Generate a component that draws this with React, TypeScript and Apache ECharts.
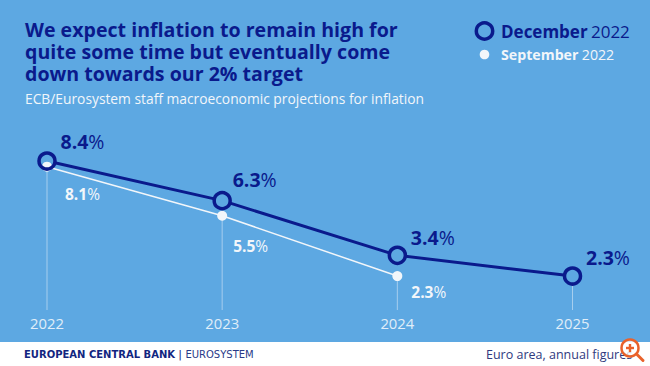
import React, { useEffect, useRef } from "react";
import * as echarts from "echarts";

const years = ["2022", "2023", "2024", "2025"];
const december = [8.4, 6.3, 3.4, 2.3];
const september: (number | null)[] = [8.1, 5.5, 2.3, null];
const titleText = "We expect inflation to remain high for\nquite some time but eventually come\ndown towards our 2% target";
const subtitleText = "ECB/Eurosystem staff macroeconomic projections for inflation";
const decLabelOffsets = [[6, -20], [3, -21], [6, -18], [6, -19]];
const sepLabelOffsets = [[13, 27], [6, 30], [9, 16]];

const NAVY = "#0A1A8C";
const BG = "#5DA8E2";
const WHITE = "#F2F6FA";
const FONT = "'Open Sans', sans-serif";

const fmt = (c: number) => c.toFixed(1);

export default function App() {
  const ref = useRef<HTMLDivElement>(null);
  useEffect(() => {
    document.body.style.margin = "0";
    const chart = echarts.init(ref.current!, null, { renderer: "svg" });
    const lowest = years.map((_, i) => Math.min(december[i], september[i] ?? Infinity));
    chart.setOption({
      animation: false,
      backgroundColor: BG,
      textStyle: { fontFamily: FONT },
      title: {
        left: 25, top: 18, padding: 0,
        text: titleText,
        textStyle: { color: NAVY, fontFamily: FONT, fontWeight: 700, fontSize: 19.6, lineHeight: 22 },
        subtext: subtitleText,
        itemGap: 5,
        subtextStyle: { color: "#F2F6FA", fontFamily: FONT, fontSize: 13.8, lineHeight: 18 },
      },
      grid: { left: 47, right: 77.5, top: 140.3, bottom: 56 },
      xAxis: {
        type: "category", data: years, boundaryGap: false,
        axisLine: { show: false }, axisTick: { show: false },
        axisLabel: { color: "#E0EEF9", fontSize: 14.8, fontFamily: FONT, margin: 5 },
      },
      yAxis: { type: "value", min: 0.5, max: 9.5, show: false },
      series: [
        {
          type: "custom", z: 1, silent: true,
          data: lowest.map((v, i) => [i, v]),
          renderItem: (_: any, api: any) => {
            const a = api.coord([api.value(0), api.value(1)]);
            const b = api.coord([api.value(0), 0.5]);
            return { type: "line", shape: { x1: a[0], y1: a[1], x2: b[0], y2: b[1] }, style: { stroke: "#A6CEEE", lineWidth: 1 } };
          },
        },
        {
          type: "line", z: 2, data: september, symbol: "none",
          lineStyle: { color: WHITE, width: 1.5 },
        },
        {
          type: "line", z: 3, data: december, symbol: "circle", symbolSize: 14,
          showAllSymbol: true,
          itemStyle: { color: BG, borderColor: BG, borderWidth: 0 },
          lineStyle: { color: NAVY, width: 3 },
        },
        {
          type: "scatter", z: 4, data: september, symbol: "circle", symbolSize: 10,
          itemStyle: { color: WHITE, opacity: 1 },
          label: {
            show: true, position: "right", color: WHITE,
            formatter: (p: any) => `{b|${fmt(p.value)}}{n|%}`,
            rich: {
              b: { fontFamily: FONT, fontWeight: 700, fontSize: 15.5, color: WHITE },
              n: { fontFamily: FONT, fontSize: 15.5, color: WHITE },
            },
          },
          labelLayout: (p: any) => {
            const o = sepLabelOffsets[p.dataIndex];
            return { dx: o[0] - 5, dy: o[1] };
          },
        },
        {
          type: "scatter", z: 5, data: december, symbol: "circle", symbolSize: 16,
          itemStyle: { color: "none", borderColor: NAVY, borderWidth: 3.5, opacity: 1 },
          label: {
            show: true, position: "right",
            formatter: (p: any) => `{b|${fmt(p.value)}}{n|%}`,
            rich: {
              b: { fontFamily: FONT, fontWeight: 700, fontSize: 19.5, color: NAVY },
              n: { fontFamily: FONT, fontSize: 19.5, color: NAVY },
            },
          },
          labelLayout: (p: any) => {
            const o = decLabelOffsets[p.dataIndex];
            return { dx: o[0] - 8, dy: o[1] };
          },
        },
      ],
      graphic: [
        { type: "rect", z: 10, shape: { x: 0, y: 342, width: 650, height: 24 }, style: { fill: "#FFFFFF" } },
        { type: "circle", z: 11, shape: { cx: 484.5, cy: 31, r: 8.2 }, style: { fill: "none", stroke: NAVY, lineWidth: 3.5 } },
        { type: "circle", z: 11, shape: { cx: 484.5, cy: 54.5, r: 4.8 }, style: { fill: WHITE } },
        {
          type: "text", z: 11, x: 501, y: 31,
          style: {
            text: "{b|December} {n|2022}", verticalAlign: "middle",
            rich: {
              b: { fontFamily: FONT, fontWeight: 700, fontSize: 17, fill: NAVY },
              n: { fontFamily: FONT, fontSize: 17, fill: NAVY },
            },
          },
        },
        {
          type: "text", z: 11, x: 501, y: 54,
          style: {
            text: "{b|September} {n|2022}", verticalAlign: "middle",
            rich: {
              b: { fontFamily: FONT, fontWeight: 700, fontSize: 14.2, fill: WHITE },
              n: { fontFamily: FONT, fontSize: 14.2, fill: WHITE },
            },
          },
        },
        {
          type: "text", z: 11, x: 24, y: 354,
          style: {
            text: "{b|EUROPEAN CENTRAL BANK} {s||} {n|EUROSYSTEM}", verticalAlign: "middle",
            rich: {
              b: { fontFamily: "'DejaVu Sans'", fontWeight: 700, fontSize: 10, fill: "#12257F" },
              s: { fontFamily: "'DejaVu Sans'", fontSize: 11, fill: "#12257F" },
              n: { fontFamily: "'DejaVu Sans'", fontSize: 10, fill: "#2A3A88" },
            },
          },
        },
        {
          type: "text", z: 11, x: 486, y: 354,
          style: { text: "Euro area, annual figures", fontFamily: FONT, fontSize: 12.5, fill: "#2F3A7E", verticalAlign: "middle" },
        },
        { type: "circle", z: 12, shape: { cx: 630, cy: 348, r: 8.5 }, style: { fill: "rgba(255,255,255,0.75)", stroke: "#E9622B", lineWidth: 2.5 } },
        { type: "line", z: 12, shape: { x1: 636.5, y1: 354, x2: 643, y2: 360.5 }, style: { stroke: "#E9622B", lineWidth: 3, lineCap: "round" } },
        { type: "line", z: 12, shape: { x1: 626, y1: 348, x2: 634, y2: 348 }, style: { stroke: "#E9622B", lineWidth: 2.4 } },
        { type: "line", z: 12, shape: { x1: 630, y1: 344, x2: 630, y2: 352 }, style: { stroke: "#E9622B", lineWidth: 2.4 } },
      ],
    });
    return () => chart.dispose();
  }, []);
  return <div ref={ref} style={{ width: 650, height: 366 }} />;
}
